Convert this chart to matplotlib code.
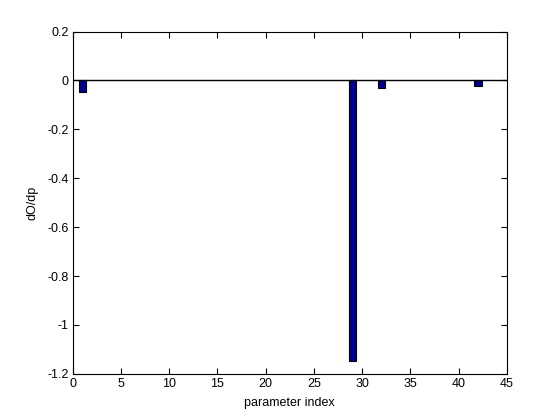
import numpy as np
import matplotlib
matplotlib.use("Agg")
import matplotlib.pyplot as plt

# nonzero sensitivities (all other parameters are zero)
param_index = [1, 29, 32, 42]
dOdp = [-0.049, -1.146, -0.033, -0.022]

plt.rcParams['font.family'] = ['Liberation Sans', 'DejaVu Sans']
plt.rcParams['font.size'] = 9

fig = plt.figure(figsize=(5.6, 4.2), dpi=100)
ax = fig.add_axes([0.13, 0.11, 0.775, 0.815])

ax.bar(param_index, dOdp, width=0.8, color='#00008F', edgecolor='black', linewidth=0.8)
ax.axhline(0, color='black', linewidth=1)

ax.set_xlim(0, 45)
ax.set_ylim(-1.2, 0.2)
ax.set_xticks(np.arange(0, 46, 5))
ax.set_yticks(np.arange(-1.2, 0.21, 0.2))
ax.set_yticklabels(['-1.2', '-1', '-0.8', '-0.6', '-0.4', '-0.2', '0', '0.2'])
ax.tick_params(direction='in', top=True, right=True, length=4, width=0.8, pad=3)
for s in ax.spines.values():
    s.set_linewidth(0.8)

ax.set_xlabel('parameter index', labelpad=5)
ax.set_ylabel('dO/dp', labelpad=6)

fig.savefig('out.png', dpi=100)
